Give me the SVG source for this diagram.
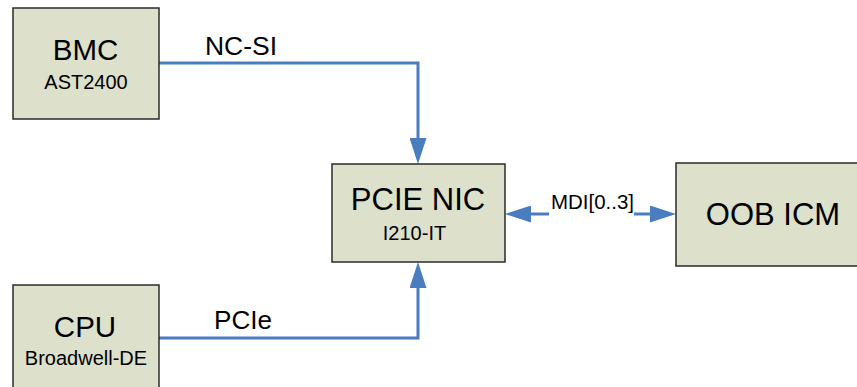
<svg xmlns="http://www.w3.org/2000/svg" width="857" height="387" viewBox="0 0 857 387">
<defs>
<style>
.box{fill:#dde0cb;stroke:#2b2b2b;stroke-width:1.5}
.conn{fill:none;stroke:#4a7cc0;stroke-width:3}
text{font-family:"Liberation Sans",Arial,sans-serif;fill:#000}
.big{font-size:29.5px;text-anchor:middle}
.big2{font-size:31px;text-anchor:middle}
.small{font-size:20px;text-anchor:middle}
.lbl{font-size:26px}
.mdi{font-size:20.5px}
</style>
<marker id="arr" viewBox="0 0 26 17" refX="0" refY="8.5" markerWidth="26" markerHeight="17" markerUnits="userSpaceOnUse" orient="auto">
<path d="M0,0 L26,8.5 L0,17 z" fill="#4a7cc0"/>
</marker>
</defs>
<rect width="857" height="387" fill="#fff"/>
<g id="connectors">
<path class="conn" d="M159,63 H418 V138" marker-end="url(#arr)"/>
<path class="conn" d="M159,338 H418 V288" marker-end="url(#arr)"/>
<path class="conn" d="M549,214 H531" marker-end="url(#arr)"/>
<path class="conn" d="M634,214 H650" marker-end="url(#arr)"/>
<text class="lbl" x="205" y="55" textLength="72" lengthAdjust="spacingAndGlyphs">NC-SI</text>
<text class="lbl" x="214" y="329" textLength="58" lengthAdjust="spacingAndGlyphs">PCIe</text>
<text class="mdi" x="551" y="209" textLength="83" lengthAdjust="spacingAndGlyphs">MDI[0..3]</text>
</g>
<g id="bmc">
<rect class="box" x="13" y="8" width="146" height="111"/>
<text class="big" x="85.5" y="60">BMC</text>
<text class="small" x="86" y="88.5">AST2400</text>
</g>
<g id="pcie-nic">
<rect class="box" x="332" y="164" width="173" height="98"/>
<text class="big2" x="418" y="209.5">PCIE NIC</text>
<text class="small" x="414.5" y="240">I210-IT</text>
</g>
<g id="oob-icm">
<rect class="box" x="676" y="163" width="190" height="103"/>
<text class="big2" x="773" y="225">OOB ICM</text>
</g>
<g id="cpu">
<rect class="box" x="13" y="285" width="146" height="120"/>
<text class="big" x="85" y="337">CPU</text>
<text class="small" x="86" y="365">Broadwell-DE</text>
</g>
</svg>
